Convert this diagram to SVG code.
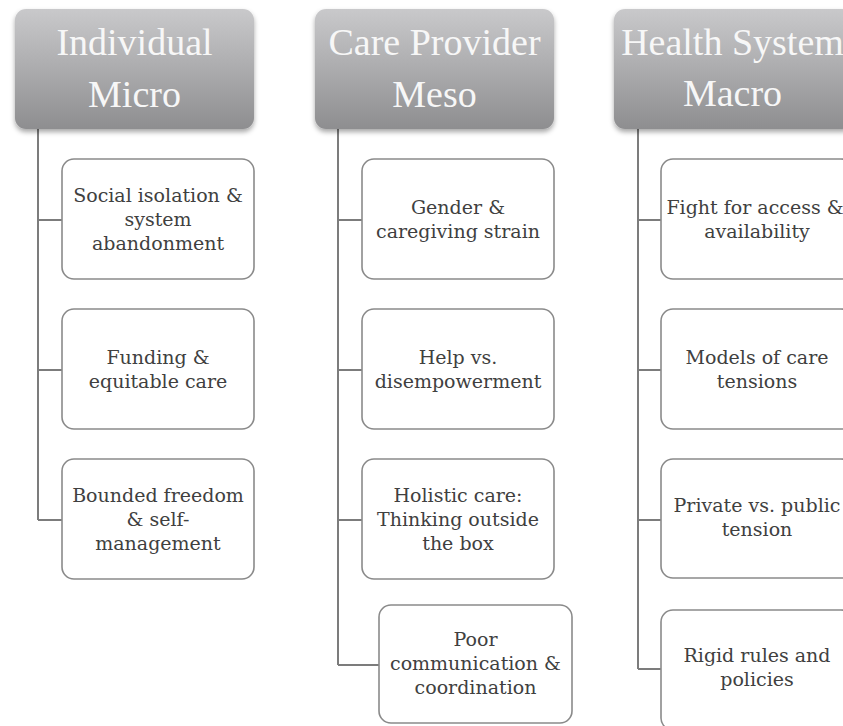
<svg xmlns="http://www.w3.org/2000/svg" width="843" height="726" viewBox="0 0 843 726">
<defs>
<linearGradient id="hg" x1="0" y1="0" x2="0" y2="1">
<stop offset="0" stop-color="#c9c9cb"/>
<stop offset="1" stop-color="#8e8e90"/>
</linearGradient>
<filter id="sh" x="-10%" y="-10%" width="120%" height="130%">
<feDropShadow dx="0" dy="3" stdDeviation="2.5" flood-color="#000" flood-opacity="0.35"/>
</filter>
<style>
.hdr{fill:url(#hg);filter:url(#sh)}
.ht{font-family:"Liberation Serif","DejaVu Serif",serif;font-size:38px;fill:#f7f7f7;text-anchor:middle}
.box{fill:#fff;stroke:#8a8a8a;stroke-width:1.6}
.bt{font-family:"DejaVu Serif","Liberation Serif",serif;font-size:19px;fill:#404040;text-anchor:middle}
.con{fill:none;stroke:#7c7c7c;stroke-width:2}
</style>
</defs>
<rect width="843" height="726" fill="#fff"/>
<g id="connectors">
<path class="con" d="M38 129 V520 M38 220 H62 M38 370 H62 M38 520 H62"/>
<path class="con" d="M338 129 V665 M338 220 H362 M338 370 H362 M338 520 H362 M338 665 H379"/>
<path class="con" d="M638 129 V669 M638 220 H661 M638 370 H661 M638 520 H661 M638 669 H661"/>
</g>
<g id="h1"><rect class="hdr" x="15" y="9" width="239" height="120" rx="11"/>
<text class="ht" x="134.5" y="55">Individual</text><text class="ht" x="134.5" y="107">Micro</text></g>
<g id="h2"><rect class="hdr" x="315" y="9" width="239" height="120" rx="11"/>
<text class="ht" x="434.5" y="55">Care Provider</text><text class="ht" x="434.5" y="107">Meso</text></g>
<g id="h3"><rect class="hdr" x="614" y="9" width="239" height="120" rx="11"/>
<text class="ht" x="732.5" y="55">Health System</text><text class="ht" x="732.5" y="106">Macro</text></g>

<g id="c1b1"><rect class="box" x="62" y="159" width="192" height="120" rx="12"/>
<text class="bt" x="158" y="202">Social isolation &amp;</text><text class="bt" x="158" y="226">system</text><text class="bt" x="158" y="250">abandonment</text></g>
<g id="c1b2"><rect class="box" x="62" y="309" width="192" height="120" rx="12"/>
<text class="bt" x="158" y="364">Funding &amp;</text><text class="bt" x="158" y="388">equitable care</text></g>
<g id="c1b3"><rect class="box" x="62" y="459" width="192" height="120" rx="12"/>
<text class="bt" x="158" y="502">Bounded freedom</text><text class="bt" x="158" y="526">&amp; self-</text><text class="bt" x="158" y="550">management</text></g>

<g id="c2b1"><rect class="box" x="362" y="159" width="192" height="120" rx="12"/>
<text class="bt" x="458" y="214">Gender &amp;</text><text class="bt" x="458" y="238">caregiving strain</text></g>
<g id="c2b2"><rect class="box" x="362" y="309" width="192" height="120" rx="12"/>
<text class="bt" x="458" y="364">Help vs.</text><text class="bt" x="458" y="388">disempowerment</text></g>
<g id="c2b3"><rect class="box" x="362" y="459" width="192" height="120" rx="12"/>
<text class="bt" x="458" y="502">Holistic care:</text><text class="bt" x="458" y="526">Thinking outside</text><text class="bt" x="458" y="550">the box</text></g>
<g id="c2b4"><rect class="box" x="379" y="605" width="193" height="118" rx="12"/>
<text class="bt" x="475.5" y="646">Poor</text><text class="bt" x="475.5" y="670">communication &amp;</text><text class="bt" x="475.5" y="694">coordination</text></g>

<g id="c3b1"><rect class="box" x="661" y="159" width="192" height="120" rx="12"/>
<text class="bt" x="755" y="214">Fight for access &amp;</text><text class="bt" x="757" y="238">availability</text></g>
<g id="c3b2"><rect class="box" x="661" y="309" width="192" height="120" rx="12"/>
<text class="bt" x="757" y="364">Models of care</text><text class="bt" x="757" y="388">tensions</text></g>
<g id="c3b3"><rect class="box" x="661" y="459" width="192" height="119" rx="12"/>
<text class="bt" x="757" y="512">Private vs. public</text><text class="bt" x="757" y="536">tension</text></g>
<g id="c3b4"><rect class="box" x="661" y="610" width="192" height="120" rx="12"/>
<text class="bt" x="757" y="662">Rigid rules and</text><text class="bt" x="757" y="686">policies</text></g>
</svg>
